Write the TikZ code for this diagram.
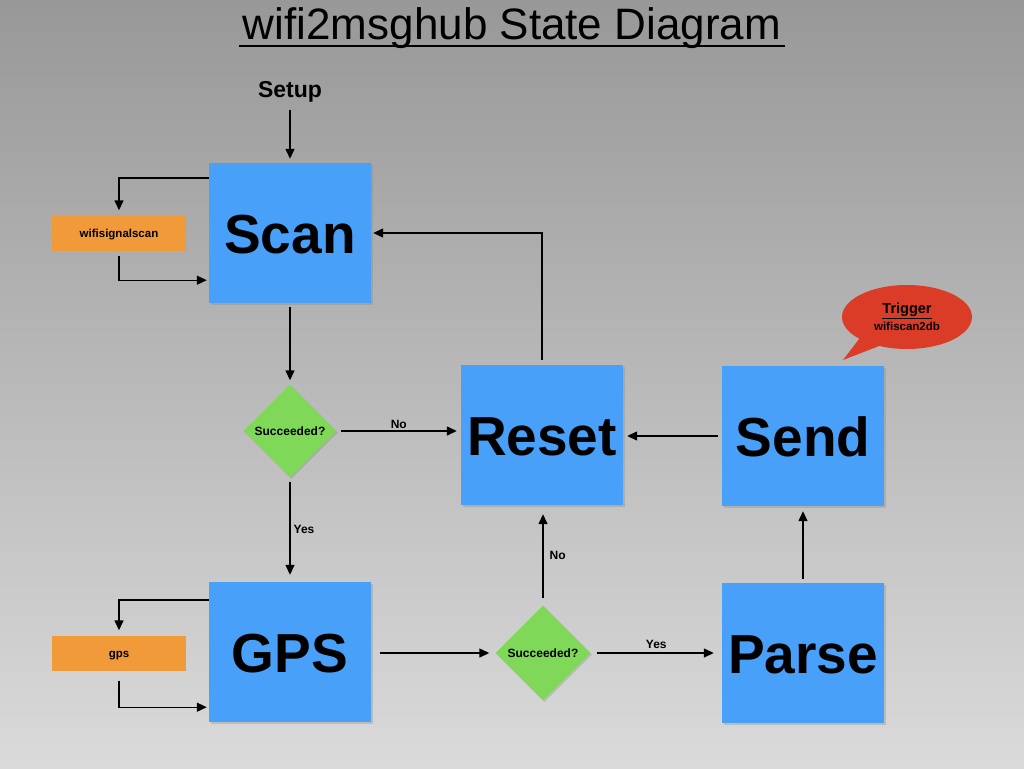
\documentclass[tikz,border=0pt]{standalone}
\usepackage{fontspec}
\setmainfont{Liberation Sans}
\usetikzlibrary{arrows,arrows.meta,shapes.geometric,shapes.callouts,shadows}

\definecolor{bgtop}{RGB}{152,152,152}
\definecolor{bgbottom}{RGB}{218,218,218}
\definecolor{stateblue}{RGB}{72,160,248}
\definecolor{taskorange}{RGB}{240,154,58}
\definecolor{testgreen}{RGB}{128,216,88}
\definecolor{triggerred}{RGB}{218,60,40}

\begin{document}
\begin{tikzpicture}[x=1pt,y=-1pt,>={Triangle[length=10pt,width=9pt]}]
        \tikzstyle{state}=[fill=stateblue,minimum width=162pt,minimum height=140pt,inner sep=0pt,
                drop shadow={shadow xshift=1.5pt,shadow yshift=-1.5pt,opacity=.3},
                font=\fontsize{55}{60}\selectfont\bfseries,text height=40pt,text depth=0pt]
        \tikzstyle{task}=[fill=taskorange,minimum width=134pt,minimum height=35pt,inner sep=0pt,
                font=\fontsize{11.5}{13}\selectfont\bfseries,text height=8.5pt,text depth=0pt]
        \tikzstyle{test}=[diamond,fill=testgreen,aspect=1,inner sep=0pt,minimum width=93pt,
                minimum height=93pt,drop shadow={shadow xshift=1.5pt,shadow yshift=-1.5pt,opacity=.3},
                font=\fontsize{12}{14}\selectfont\bfseries,text height=8.5pt,text depth=0pt]
        \tikzstyle{flow}=[->,line width=1.4pt,shorten >=4pt,shorten <=4pt]
        \tikzstyle{loop}=[->,line width=1.4pt,shorten >=2pt]
        \tikzstyle{tag}=[font=\fontsize{12}{14}\selectfont\bfseries,inner sep=2pt]

        \shade[top color=bgtop,bottom color=bgbottom] (0,0) rectangle (1024,768);
        \useasboundingbox (0,0) rectangle (1024,768);

        \node[anchor=base,font=\fontsize{44}{48}\selectfont] (title) at (512,40) {wifi2msghub State Diagram};
        \draw[line width=2.2pt] ([yshift=-6pt]title.base west) -- ([yshift=-6pt]title.base east);

        \node[anchor=base,font=\fontsize{23}{26}\selectfont\bfseries] (setup) at (290,97) {Setup};

        \node[state] (scan)  at (290,233) {Scan};
        \node[state] (gps)   at (290,652) {GPS};
        \node[state] (reset) at (542,435) {Reset};
        \node[state] (send)  at (803,436) {Send};
        \node[state] (parse) at (803,653) {Parse};

        \node[task] (wifiscan) at (119,233) {wifisignalscan};
        \node[task] (gpsread)  at (119,653) {gps};

        \node[test] (okscan) at (290,431) {Succeeded?};
        \node[test,minimum width=95pt,minimum height=95pt] (okgps) at (543,653) {Succeeded?};

        % speech bubble on Send
        \coordinate (bubbletip) at (843,360);
        \node[ellipse callout,fill=triggerred,minimum width=130pt,minimum height=64pt,
              callout absolute pointer={(bubbletip)},callout pointer arc=22,
              align=center,font=\fontsize{14.5}{17}\selectfont\bfseries] (trigger) at (907,317)
              {\raisebox{3pt}{\underline{Trigger}}\\[-3pt]{\fontsize{11.5}{13}\selectfont wifiscan2db}};

        \draw[flow,shorten <=0pt] ([yshift=-13pt]setup.base) -- (scan.north);
        \draw[flow] (scan) -- (okscan);
        \draw[flow] (okscan.east) -- node[tag,above] {No} (okscan -| reset.west);
        \draw[flow,shorten >=7pt] (okscan) -- node[tag,right,xshift=1pt] {Yes} (gps);
        \draw[flow,shorten <=9pt,shorten >=6pt] (gps.east |- okgps) -- (okgps.west);
        \draw[flow,shorten <=6pt,shorten >=8pt] (okgps.east) -- node[tag,above,yshift=2pt] {Yes} (okgps -| parse.west);
        \draw[flow,shorten <=7pt,shorten >=9pt] (okgps.north) -- node[tag,right,xshift=4pt] {No} (okgps |- reset.south);
        \draw[flow,shorten <=5pt,shorten >=2pt] (reset.north) |- (scan.east);
        \draw[flow] (send.west) -- (send.west -| reset.east);
        \draw[flow,shorten >=5pt] (parse) -- (send);

        % task loops
        \draw[loop] ([yshift=-15pt]scan.north west) -| ([yshift=3pt]wifiscan.north);
        \draw[loop] ([yshift=-5pt]wifiscan.south) |- ([yshift=23pt]scan.south west);
        \draw[loop] ([yshift=-18pt]gps.north west) -| ([yshift=3pt]gpsread.north);
        \draw[loop] ([yshift=-10pt]gpsread.south) |- ([yshift=15pt]gps.south west);
\end{tikzpicture}
\end{document}
